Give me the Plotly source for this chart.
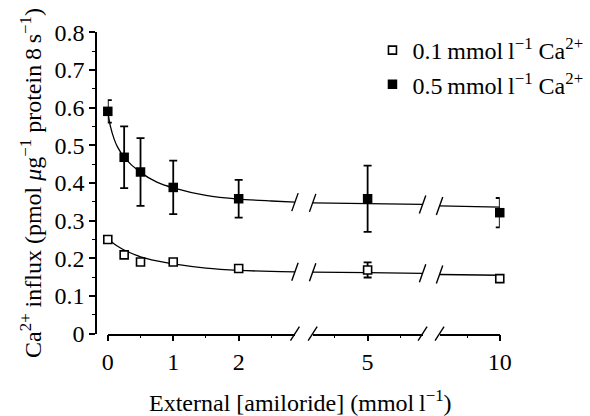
import plotly.graph_objects as go

# ---------------- data ----------------
amiloride = [0, 0.25, 0.5, 1, 2, 5, 10]                      # mmol l-1
ca01_influx = [0.250, 0.209, 0.190, 0.190, 0.173, 0.169, 0.146]
ca01_sem = [0.004, 0.006, 0.003, 0.003, 0.006, 0.020, 0.004]
ca05_influx = [0.590, 0.468, 0.429, 0.388, 0.358, 0.358, 0.321]
ca05_sem = [0.030, 0.082, 0.090, 0.071, 0.050, 0.088, 0.039]

fit_x = [0, 0.04, 0.1, 0.15, 0.25, 0.5, 0.75, 1, 1.5, 2, 2.5, 2.86,
         4.16, 5, 5.84, 9.08, 10]
fit01 = [0.250, 0.246, 0.238, 0.232, 0.222, 0.204, 0.193, 0.185, 0.174,
         0.168, 0.165, 0.164, 0.163, 0.162, 0.160, 0.157, 0.155]
fit05 = [0.590, 0.550, 0.515, 0.495, 0.468, 0.428, 0.402, 0.387, 0.367,
         0.357, 0.352, 0.349, 0.347, 0.345, 0.343, 0.339, 0.336]

x_ticks = [0, 1, 2, 5, 10]
y_ticks = [0, 0.1, 0.2, 0.3, 0.4, 0.5, 0.6, 0.7, 0.8]
y_ticktext = ["0", "0.1", "0.2", "0.3", "0.4", "0.5", "0.6", "0.7", "0.8"]

series_names = ["0.1\u2009mmol\u2009l<sup>\u22121</sup> Ca<sup>2+</sup>",
                "0.5\u2009mmol\u2009l<sup>\u22121</sup> Ca<sup>2+</sup>"]

# ---------------- layout constants ----------------
W, H = 590, 416
FONT = "Liberation Serif"
FS = 24
PX_PER_UNIT = 67.5
seg_ranges = [(0, 2.86), (4.16, 5.84), (9.08, 10)]
seg_start_px = [105, 316.3, 447.2]
yaxis_px = 93
y_top_px, y_bot_px = 20.5, 342
Y_RANGE = (0, 0.8)

fig = go.Figure()
axis_ids = ["x", "x2", "x3"]

def in_seg(xs, ys, r, extra=None):
    idx = [i for i, v in enumerate(xs) if r[0] - 1e-9 <= v <= r[1] + 1e-9]
    out = [[xs[i] for i in idx], [ys[i] for i in idx]]
    if extra is not None:
        out.append([extra[i] for i in idx])
    return out

for k, (r, ax) in enumerate(zip(seg_ranges, axis_ids)):
    # fitted curves
    for fy in (fit01, fit05):
        fx, fv = in_seg(fit_x, fy, r)
        fig.add_trace(go.Scatter(x=fx, y=fv, mode="lines", xaxis=ax, yaxis="y",
                                 line=dict(color="black", width=1.3, shape="spline", smoothing=0.8),
                                 showlegend=False, hoverinfo="skip"))
    # data points
    px_, py_, pe_ = in_seg(amiloride, ca01_influx, r, ca01_sem)
    fig.add_trace(go.Scatter(x=px_, y=py_, mode="markers", xaxis=ax, yaxis="y",
                             name=series_names[0], legendgroup="a", showlegend=(k == 0),
                             cliponaxis=False,
                             error_y=dict(type="data", array=pe_, color="black", thickness=1.8, width=4),
                             marker=dict(symbol="square", size=8, color="white",
                                         line=dict(color="black", width=1.6))))
    px_, py_, pe_ = in_seg(amiloride, ca05_influx, r, ca05_sem)
    fig.add_trace(go.Scatter(x=px_, y=py_, mode="markers", xaxis=ax, yaxis="y",
                             name=series_names[1], legendgroup="b", showlegend=(k == 0),
                             cliponaxis=False,
                             error_y=dict(type="data", array=pe_, color="black", thickness=1.8, width=4),
                             marker=dict(symbol="square", size=9.5, color="black",
                                         line=dict(color="black", width=0))))

y_dom = [(H - y_bot_px) / H, (H - y_top_px) / H]
layout = dict(
    width=W, height=H, margin=dict(l=0, r=0, t=0, b=0),
    paper_bgcolor="white", plot_bgcolor="white",
    font=dict(family=FONT, size=FS, color="black"),
    showlegend=True,
    legend=dict(x=(418 - 40) / W, xanchor="left", y=(H - 16) / H, yanchor="top",
                font=dict(family=FONT, size=FS, color="black"),
                bgcolor="rgba(0,0,0,0)", tracegroupgap=0, itemwidth=30),
    yaxis=dict(domain=y_dom, range=list(Y_RANGE), anchor="free", position=yaxis_px / W,
               showline=True, linecolor="black", linewidth=1.5,
               ticks="outside", ticklen=6, tickwidth=1.5, tickcolor="black",
               tickvals=y_ticks, ticktext=y_ticktext, showgrid=False, zeroline=False,
               minor=dict(dtick=0.05, tick0=0, ticks="outside", ticklen=3, tickwidth=1.2,
                          tickcolor="black", showgrid=False)),
)
for (r, start, ax) in zip(seg_ranges, seg_start_px, axis_ids):
    end = start + (r[1] - r[0]) * PX_PER_UNIT
    key = "xaxis" if ax == "x" else "xaxis" + ax[1:]
    layout[key] = dict(domain=[start / W, end / W], range=list(r), anchor="y",
                       showline=True, linecolor="black", linewidth=1.5,
                       ticks="outside", ticklen=6, tickwidth=1.5, tickcolor="black",
                       tickvals=[t for t in x_ticks if r[0] <= t <= r[1]],
                       showgrid=False, zeroline=False,
                       minor=dict(dtick=0.5, tick0=0, ticks="outside", ticklen=3, tickwidth=1.2,
                                  tickcolor="black", showgrid=False))
fig.update_layout(**layout)

# ---------------- axis-break slashes ----------------
def yfrac(v):
    return (v - Y_RANGE[0]) / (Y_RANGE[1] - Y_RANGE[0])

shapes = []
for k, (r, ax) in enumerate(zip(seg_ranges, axis_ids)):
    ends = []
    if k > 0:
        ends.append((0, 0))
    if k < len(seg_ranges) - 1:
        ends.append((1, -1))
    for frac, idx in ends:
        fx1, fv1 = in_seg(fit_x, fit01, r)
        fx5, fv5 = in_seg(fit_x, fit05, r)
        levels = [(Y_RANGE[0], 4.5, 7), (fv1[idx], 3.2, 9), (fv5[idx], 3.2, 9)]
        for lv, dx, dy in levels:
            shapes.append(dict(type="line", xref=ax + " domain", yref="y domain",
                               xsizemode="pixel", ysizemode="pixel",
                               xanchor=frac, yanchor=yfrac(lv),
                               x0=-dx, x1=dx, y0=-dy, y1=dy,
                               line=dict(color="black", width=1.4)))
fig.update_layout(shapes=shapes)

# ---------------- axis titles ----------------
fig.add_annotation(text="External [amiloride] (mmol\u2009l<sup>\u22121</sup>)",
                   xref="paper", yref="paper", x=304 / W, y=(H - 414) / H,
                   xanchor="center", yanchor="middle", showarrow=False,
                   font=dict(family=FONT, size=FS, color="black"))
fig.add_annotation(text="Ca<sup>2+</sup> influx (pmol <i>\u03bc</i>g<sup>\u22121</sup> protein\u20098\u2009s<sup>\u22121</sup>)",
                   xref="paper", yref="paper", x=25 / W, y=(H - 181) / H,
                   xanchor="center", yanchor="middle", textangle=-90, showarrow=False,
                   font=dict(family=FONT, size=FS, color="black"))

fig.write_html("out.html")
